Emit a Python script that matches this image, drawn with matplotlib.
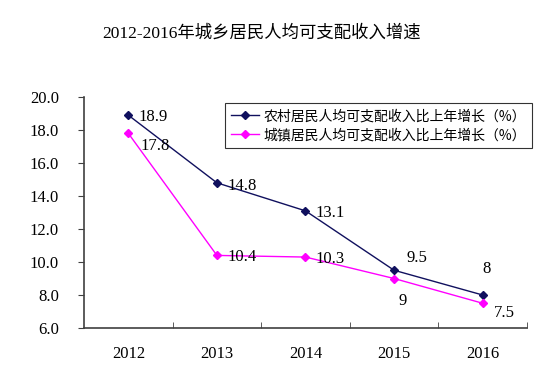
import matplotlib
matplotlib.use('Agg')
import matplotlib.pyplot as plt
import numpy as np

plt.rcParams['font.family'] = ['Liberation Serif', 'Noto Sans CJK SC']

years = ['2012', '2013', '2014', '2015', '2016']
rural = [18.9, 14.8, 13.1, 9.5, 8.0]
urban = [17.8, 10.4, 10.3, 9.0, 7.5]
rural_lbl = ['18.9', '14.8', '13.1', '9.5', '8']
urban_lbl = ['17.8', '10.4', '10.3', '9', '7.5']

fig = plt.figure(figsize=(5.47, 3.75), dpi=100)
ax = fig.add_axes([0.1536, 0.1253, 0.8098, 0.616])

x = np.arange(len(years))
ax.plot(x, rural, color='#10105e', lw=1.0, marker='D', ms=4,
        label='农村居民人均可支配收入比上年增长（%）')
ax.plot(x, urban, color='#ff00ff', lw=1.0, marker='D', ms=4,
        label='城镇居民人均可支配收入比上年增长（%）')

# label offsets (pixels, y up)
r_off = [(10, -2), (11, -3), (10, -2), (12, 12), (0, 26)]
u_off = [(12, -13), (11, -2), (10, -2), (4, -22), (11, -10)]
for i in range(len(years)):
    ax.annotate(rural_lbl[i], (x[i], rural[i]),
                xytext=(r_off[i][0] * 0.72, r_off[i][1] * 0.72),
                textcoords='offset points', fontsize=12, va='center')
    ax.annotate(urban_lbl[i], (x[i], urban[i]),
                xytext=(u_off[i][0] * 0.72, u_off[i][1] * 0.72),
                textcoords='offset points', fontsize=12, va='center')

ax.set_xlim(-0.5, 4.5)
ax.set_ylim(6, 20)
yt = np.arange(6, 20.1, 2)
ax.set_yticks(yt)
ax.set_yticklabels(['%.1f' % v for v in yt], fontsize=12)
ax.set_xticks(x)
ax.set_xticklabels(years, fontsize=12)
ax.set_xticks(np.arange(0.5, 4.6, 1), minor=True)
ax.tick_params(axis='x', which='major', length=0, pad=13)
ax.tick_params(axis='x', which='minor', direction='in', length=4, color='#404040')
ax.tick_params(axis='y', direction='out', length=4, color='#404040', pad=14)
for s in ['top', 'right']:
    ax.spines[s].set_visible(False)
for s in ['left', 'bottom']:
    ax.spines[s].set_color('#404040')
    ax.spines[s].set_linewidth(1.2)

leg = fig.legend(loc='upper left', bbox_to_anchor=(225 / 547, 1 - 103 / 375),
                 frameon=True, fancybox=False, edgecolor='black',
                 handlelength=2.0, handletextpad=0.3, borderpad=0.45,
                 labelspacing=0.35, borderaxespad=0,
                 prop={'family': ['Noto Sans CJK SC'], 'size': 10})
leg.get_frame().set_linewidth(0.8)

fig.text(262 / 547, 1 - 33 / 375, '2012-2016年城乡居民人均可支配收入增速',
         ha='center', va='center', fontsize=12.5)

fig.savefig('out.png', dpi=100)
